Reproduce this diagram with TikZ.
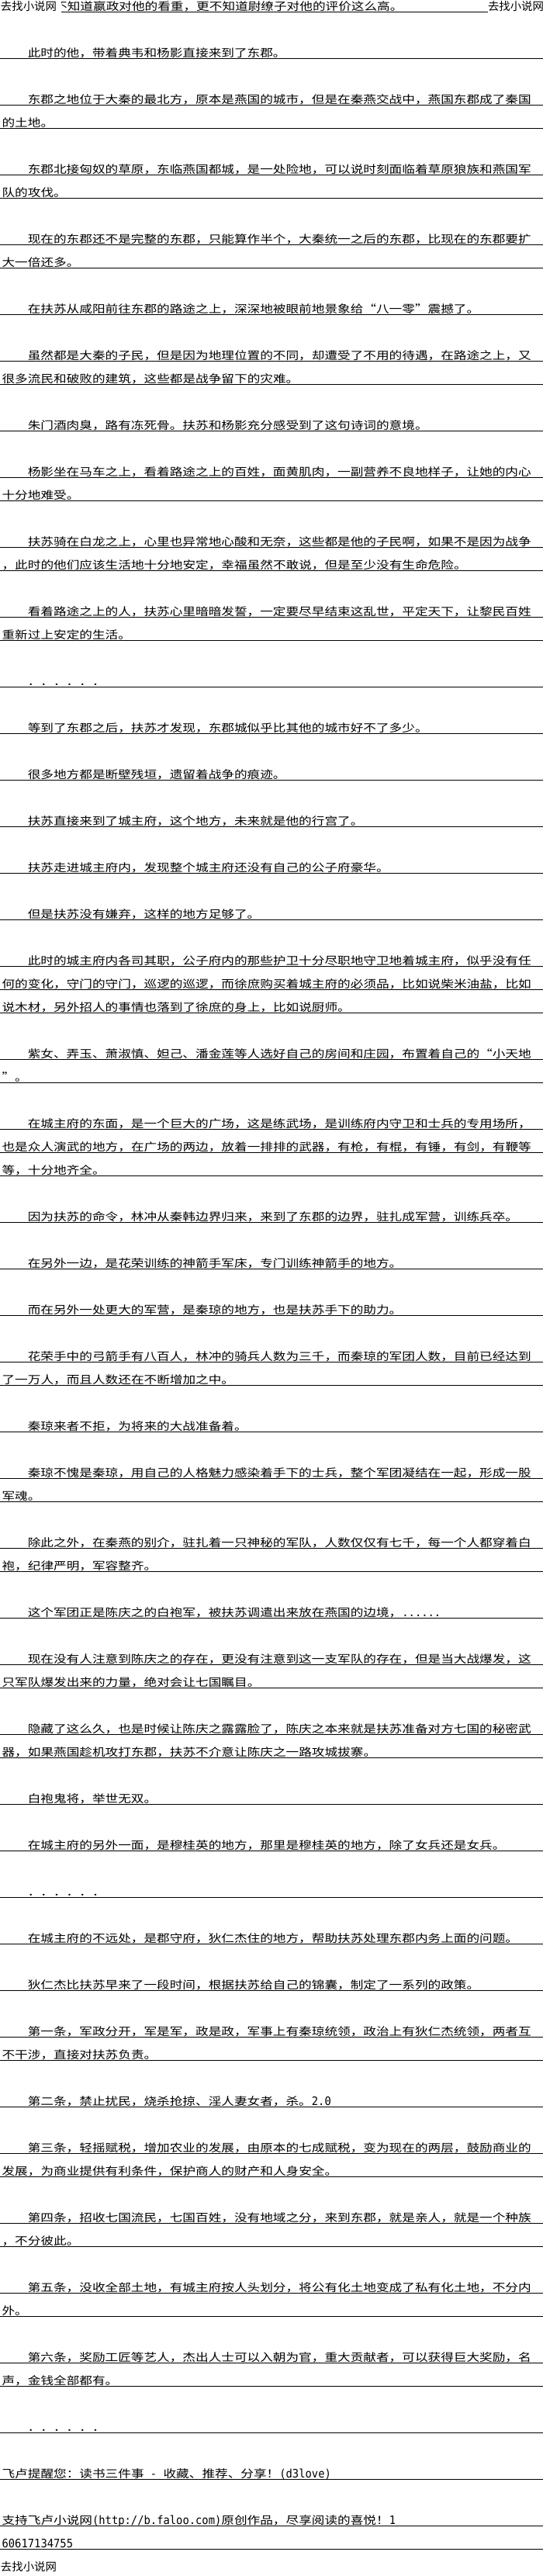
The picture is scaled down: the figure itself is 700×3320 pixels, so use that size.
\documentclass[tikz,border=0pt]{standalone}
\usepackage{fontspec}
\newfontfamily\cjk[FakeStretch=1.1886]{Noto Sans CJK SC}
\newfontfamily\cjkwm{Noto Sans CJK SC}
\newfontfamily\lat[FakeStretch=0.921]{DejaVu Sans Mono}
\newcommand\lt[1]{{\fontsize{15}{15}\lat #1}}
\newcommand\IN{35.8}
\newcommand\CO{2.6}
\newcommand\Lrow[3]{\draw[rulestyle] (0,{15+30*(#1-1)}) -- (700,{15+30*(#1-1)});
  \node[txt] (r#1) at (#2,{13+30*(#1-1)}) {#3};}
\begin{document}
\begin{tikzpicture}[x=1pt,y=-1pt,
  txt/.style={anchor=base west, inner sep=0pt, outer sep=0pt, font=\fontsize{14}{14}\cjk},
  wm/.style={anchor=base west, inner sep=0pt, outer sep=0pt, font=\fontsize{14.4}{14.4}\cjkwm},
  rulestyle/.style={line width=1pt, black}]
\fill[white] (0,0) rectangle (700,3320);
\useasboundingbox (0,0) rectangle (700,3320);
% row 1
\draw[rulestyle] (79,15) -- (629,15);
\node[txt] (r1) at (70.2,13) {不知道嬴政对他的看重，更不知道尉缭子对他的评价这么高。};
\fill[white] (0,0) rectangle (79,17);
\fill[white] (629,0) rectangle (700,17);
\node[wm] (wmL) at (1,13) {去找小说网};
\node[wm] (wmR) at (629,13) {去找小说网};
\Lrow{3}{\IN}{此时的他，带着典韦和杨影直接来到了东郡。}
\Lrow{5}{\IN}{东郡之地位于大秦的最北方，原本是燕国的城市，但是在秦燕交战中，燕国东郡成了秦国}
\Lrow{6}{\CO}{的土地。}
\Lrow{8}{\IN}{东郡北接匈奴的草原，东临燕国都城，是一处险地，可以说时刻面临着草原狼族和燕国军}
\Lrow{9}{\CO}{队的攻伐。}
\Lrow{11}{\IN}{现在的东郡还不是完整的东郡，只能算作半个，大秦统一之后的东郡，比现在的东郡要扩}
\Lrow{12}{\CO}{大一倍还多。}
\Lrow{14}{\IN}{在扶苏从咸阳前往东郡的路途之上，深深地被眼前地景象给“八一零”震撼了。}
\Lrow{16}{\IN}{虽然都是大秦的子民，但是因为地理位置的不同，却遭受了不用的待遇，在路途之上，又}
\Lrow{17}{\CO}{很多流民和破败的建筑，这些都是战争留下的灾难。}
\Lrow{19}{\IN}{朱门酒肉臭，路有冻死骨。扶苏和杨影充分感受到了这句诗词的意境。}
\Lrow{21}{\IN}{杨影坐在马车之上，看着路途之上的百姓，面黄肌肉，一副营养不良地样子，让她的内心}
\Lrow{22}{\CO}{十分地难受。}
\Lrow{24}{\IN}{扶苏骑在白龙之上，心里也异常地心酸和无奈，这些都是他的子民啊，如果不是因为战争}
\Lrow{25}{\CO}{，此时的他们应该生活地十分地安定，幸福虽然不敢说，但是至少没有生命危险。}
\Lrow{27}{\IN}{看着路途之上的人，扶苏心里暗暗发誓，一定要尽早结束这乱世，平定天下，让黎民百姓}
\Lrow{28}{\CO}{重新过上安定的生活。}
\Lrow{30}{\IN}{．．．．．．}
\Lrow{32}{\IN}{等到了东郡之后，扶苏才发现，东郡城似乎比其他的城市好不了多少。}
\Lrow{34}{\IN}{很多地方都是断壁残垣，遗留着战争的痕迹。}
\Lrow{36}{\IN}{扶苏直接来到了城主府，这个地方，未来就是他的行宫了。}
\Lrow{38}{\IN}{扶苏走进城主府内，发现整个城主府还没有自己的公子府豪华。}
\Lrow{40}{\IN}{但是扶苏没有嫌弃，这样的地方足够了。}
\Lrow{42}{\IN}{此时的城主府内各司其职，公子府内的那些护卫十分尽职地守卫地着城主府，似乎没有任}
\Lrow{43}{\CO}{何的变化，守门的守门，巡逻的巡逻，而徐庶购买着城主府的必须品，比如说柴米油盐，比如}
\Lrow{44}{\CO}{说木材，另外招人的事情也落到了徐庶的身上，比如说厨师。}
\Lrow{46}{\IN}{紫女、弄玉、萧淑慎、妲己、潘金莲等人选好自己的房间和庄园，布置着自己的“小天地}
\Lrow{47}{\CO}{”。}
\Lrow{49}{\IN}{在城主府的东面，是一个巨大的广场，这是练武场，是训练府内守卫和士兵的专用场所，}
\Lrow{50}{\CO}{也是众人演武的地方，在广场的两边，放着一排排的武器，有枪，有棍，有锤，有剑，有鞭等}
\Lrow{51}{\CO}{等，十分地齐全。}
\Lrow{53}{\IN}{因为扶苏的命令，林冲从秦韩边界归来，来到了东郡的边界，驻扎成军营，训练兵卒。}
\Lrow{55}{\IN}{在另外一边，是花荣训练的神箭手军床，专门训练神箭手的地方。}
\Lrow{57}{\IN}{而在另外一处更大的军营，是秦琼的地方，也是扶苏手下的助力。}
\Lrow{59}{\IN}{花荣手中的弓箭手有八百人，林冲的骑兵人数为三千，而秦琼的军团人数，目前已经达到}
\Lrow{60}{\CO}{了一万人，而且人数还在不断增加之中。}
\Lrow{62}{\IN}{秦琼来者不拒，为将来的大战准备着。}
\Lrow{64}{\IN}{秦琼不愧是秦琼，用自己的人格魅力感染着手下的士兵，整个军团凝结在一起，形成一股}
\Lrow{65}{\CO}{军魂。}
\Lrow{67}{\IN}{除此之外，在秦燕的别介，驻扎着一只神秘的军队，人数仅仅有七千，每一个人都穿着白}
\Lrow{68}{\CO}{袍，纪律严明，军容整齐。}
\Lrow{70}{\IN}{这个军团正是陈庆之的白袍军，被扶苏调遣出来放在燕国的边境，\lt{......}}
\Lrow{72}{\IN}{现在没有人注意到陈庆之的存在，更没有注意到这一支军队的存在，但是当大战爆发，这}
\Lrow{73}{\CO}{只军队爆发出来的力量，绝对会让七国瞩目。}
\Lrow{75}{\IN}{隐藏了这么久，也是时候让陈庆之露露脸了，陈庆之本来就是扶苏准备对方七国的秘密武}
\Lrow{76}{\CO}{器，如果燕国趁机攻打东郡，扶苏不介意让陈庆之一路攻城拔寨。}
\Lrow{78}{\IN}{白袍鬼将，举世无双。}
\Lrow{80}{\IN}{在城主府的另外一面，是穆桂英的地方，那里是穆桂英的地方，除了女兵还是女兵。}
\Lrow{82}{\IN}{．．．．．．}
\Lrow{84}{\IN}{在城主府的不远处，是郡守府，狄仁杰住的地方，帮助扶苏处理东郡内务上面的问题。}
\Lrow{86}{\IN}{狄仁杰比扶苏早来了一段时间，根据扶苏给自己的锦囊，制定了一系列的政策。}
\Lrow{88}{\IN}{第一条，军政分开，军是军，政是政，军事上有秦琼统领，政治上有狄仁杰统领，两者互}
\Lrow{89}{\CO}{不干涉，直接对扶苏负责。}
\Lrow{91}{\IN}{第二条，禁止扰民，烧杀抢掠、淫人妻女者，杀。\lt{2.0}}
\Lrow{93}{\IN}{第三条，轻摇赋税，增加农业的发展，由原本的七成赋税，变为现在的两层，鼓励商业的}
\Lrow{94}{\CO}{发展，为商业提供有利条件，保护商人的财产和人身安全。}
\Lrow{96}{\IN}{第四条，招收七国流民，七国百姓，没有地域之分，来到东郡，就是亲人，就是一个种族}
\Lrow{97}{\CO}{，不分彼此。}
\Lrow{99}{\IN}{第五条，没收全部土地，有城主府按人头划分，将公有化土地变成了私有化土地，不分内}
\Lrow{100}{\CO}{外。}
\Lrow{102}{\IN}{第六条，奖励工匠等艺人，杰出人士可以入朝为官，重大贡献者，可以获得巨大奖励，名}
\Lrow{103}{\CO}{声，金钱全部都有。}
\Lrow{105}{\IN}{．．．．．．}
\Lrow{107}{\CO}{飞卢提醒您：读书三件事\lt{\ -\ }收藏、推荐、分享！\lt{(d3love)}}
\Lrow{109}{\CO}{支持飞卢小说网\lt{(http://b.faloo.com)}原创作品，尽享阅读的喜悦！\lt{1}}
\Lrow{110}{\CO}{\lt{60617134755}}
\node[wm] (wmB) at (1,3313) {去找小说网};
\end{tikzpicture}
\end{document}
